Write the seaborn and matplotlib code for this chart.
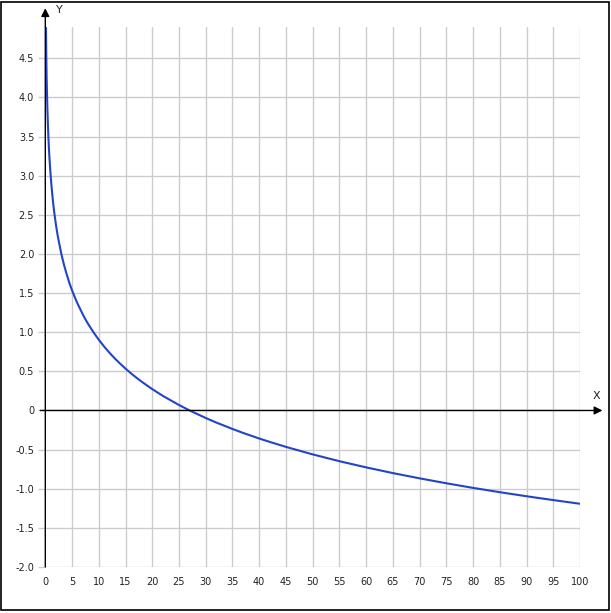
import matplotlib
matplotlib.use("Agg")
import matplotlib.pyplot as plt
import seaborn as sns
import pandas as pd
from matplotlib.patches import Rectangle

# Curve values
x_vals = [0.125, 0.15, 0.2, 0.25, 0.3, 0.4, 0.5, 0.6, 0.7, 0.8, 0.9, 1, 1.25, 1.5, 1.75, 2, 2.25,
          2.5, 3, 3.5, 4, 4.5, 5, 5.5, 6, 6.5, 7, 7.5, 8, 9, 10, 11, 12, 13, 14, 15, 16, 17, 18,
          20, 22, 25, 27, 30, 32, 35, 37, 40, 42, 45, 50, 55, 60, 65, 70, 75, 80, 85, 90, 95, 100]
y_vals = [4.89, 4.73, 4.46, 4.26, 4.10, 3.83, 3.63, 3.46, 3.32, 3.20, 3.10, 3.00, 2.80, 2.63,
          2.49, 2.37, 2.26, 2.17, 2.00, 1.86, 1.74, 1.63, 1.535, 1.45, 1.37, 1.30, 1.23, 1.165,
          1.107, 1.00, 0.904, 0.817, 0.738, 0.665, 0.598, 0.535, 0.476, 0.421, 0.369, 0.273,
          0.186, 0.070, 0.00, -0.096, -0.155, -0.236, -0.287, -0.358, -0.402, -0.465, -0.561,
          -0.648, -0.727, -0.800, -0.867, -0.930, -0.989, -1.044, -1.096, -1.145, -1.192]

x_ticks = list(range(0, 101, 5))
x_tick_labels = [str(v) for v in x_ticks]
y_ticks = [-2.0, -1.5, -1.0, -0.5, 0, 0.5, 1.0, 1.5, 2.0, 2.5, 3.0, 3.5, 4.0, 4.5]
y_tick_labels = ["-2.0", "-1.5", "-1.0", "-0.5", "0", "0.5", "1.0", "1.5", "2.0", "2.5",
                 "3.0", "3.5", "4.0", "4.5"]

df = pd.DataFrame({"x": x_vals, "y": y_vals})

sns.set_theme(style="white")
plt.rcParams['font.family'] = ['DejaVu Sans']

W, H = 611, 613
fig = plt.figure(figsize=(W / 100, H / 100), dpi=100)
x0, x1 = 45.3, 580.0
ytop, ybot = 27.0, 567.0
ax = fig.add_axes([x0 / W, (H - ybot) / H, (x1 - x0) / W, (ybot - ytop) / H])

ax.set_xlim(0, 100)
ax.set_ylim(-2.0, 4.9)

# grid
for xv in x_ticks:
    if xv == 0:
        continue
    ax.axvline(xv, color="#cccccc", lw=1.0, zorder=1)
for yv in y_ticks:
    ax.axhline(yv, color="#cccccc", lw=1.0, zorder=1)

sns.lineplot(data=df, x="x", y="y", color="#2444c8", lw=1.5, ax=ax, zorder=4, sort=True)

for s in ax.spines.values():
    s.set_visible(False)

ax.set_xticks(x_ticks)
ax.set_xticklabels(x_tick_labels)
ax.set_yticks(y_ticks)
ax.set_yticklabels(y_tick_labels)
ax.tick_params(axis="x", length=0, pad=7, labelsize=7, labelcolor="#222222")
ax.tick_params(axis="y", length=5, width=1, color="#cccccc", pad=3, labelsize=7,
               labelcolor="#222222", left=True)
ax.set_xlabel("")
ax.set_ylabel("")

# axes with arrows
ax.annotate("", xy=(104.2, 0), xytext=(-0.95, 0), xycoords="data",
            arrowprops=dict(arrowstyle="-|>", color="black", lw=1.0,
                            mutation_scale=12, shrinkA=0, shrinkB=0),
            annotation_clip=False, zorder=5)
ax.annotate("", xy=(0, 5.14), xytext=(0, -2.0), xycoords="data",
            arrowprops=dict(arrowstyle="-|>", color="black", lw=1.0,
                            mutation_scale=12, shrinkA=0, shrinkB=0),
            annotation_clip=False, zorder=5)
ax.text(2.0, 5.12, "Y", fontsize=8, color="#222222", ha="left", va="center", clip_on=False)
ax.text(103.0, 0.19, "X", fontsize=8, color="#222222", ha="center", va="center", clip_on=False)

# outer frame
fig.patches.append(Rectangle((1.0 / W, 3.0 / H), 607.5 / W, 608.5 / H, transform=fig.transFigure,
                             fill=False, edgecolor="black", lw=1.2))

fig.savefig("out.png", dpi=100)
